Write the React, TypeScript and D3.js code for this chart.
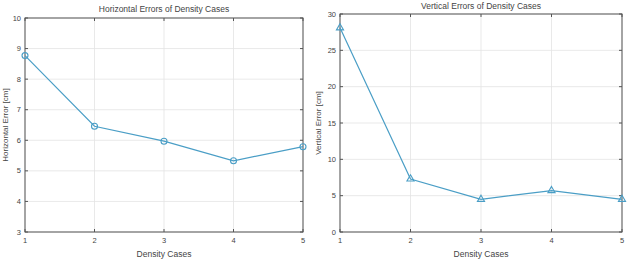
import React from "react";
import * as d3 from "d3";

const cases = [1, 2, 3, 4, 5];
const horizontalErrors = [8.77, 6.46, 5.97, 5.33, 5.79];
const verticalErrors = [28.1, 7.3, 4.5, 5.7, 4.5];
const hTicks = [3, 4, 5, 6, 7, 8, 9, 10];
const vTicks = [0, 5, 10, 15, 20, 25, 30];

const LINE = "#4a9ec6";
const AXIS = "#555";
const GRID = "#e3e3e3";
const TXT = "#444";
const FONT = "Liberation Sans, Arial, sans-serif";

type PanelProps = {
  left: number; right: number; top: number; bottom: number;
  yDomain: [number, number]; yTicks: number[]; values: number[];
  title: string; titleY: number; ylabel: string; ylabelX: number; marker: "circle" | "triangle";
};

function Panel(p: PanelProps) {
  const x = d3.scaleLinear().domain([1, 5]).range([p.left, p.right]);
  const y = d3.scaleLinear().domain(p.yDomain).range([p.bottom, p.top]);
  const line = d3.line<number>().x((_, i) => x(cases[i])).y((d) => y(d));
  const tri = d3.symbol().type(d3.symbolTriangle).size(22)();
  const cx = (p.left + p.right) / 2;
  const cy = (p.top + p.bottom) / 2;
  return (
    <g fontFamily={FONT}>
      {cases.map((c) => (
        <line key={"gx" + c} x1={x(c)} x2={x(c)} y1={p.top} y2={p.bottom} stroke={GRID} strokeWidth={0.8} />
      ))}
      {p.yTicks.map((t) => (
        <line key={"gy" + t} x1={p.left} x2={p.right} y1={y(t)} y2={y(t)} stroke={GRID} strokeWidth={0.8} />
      ))}
      <rect x={p.left} y={p.top} width={p.right - p.left} height={p.bottom - p.top} fill="none" stroke={AXIS} strokeWidth={1} />
      {cases.map((c) => (
        <g key={"tx" + c}>
          <line x1={x(c)} x2={x(c)} y1={p.bottom} y2={p.bottom - 3} stroke={AXIS} />
          <line x1={x(c)} x2={x(c)} y1={p.top} y2={p.top + 3} stroke={AXIS} />
          <text x={x(c)} y={p.bottom + 11} fontSize={7.5} fill={TXT} textAnchor="middle">{c}</text>
        </g>
      ))}
      {p.yTicks.map((t) => (
        <g key={"ty" + t}>
          <line x1={p.left} x2={p.left + 3} y1={y(t)} y2={y(t)} stroke={AXIS} />
          <line x1={p.right} x2={p.right - 3} y1={y(t)} y2={y(t)} stroke={AXIS} />
          <text x={p.left - 4} y={y(t) + 2.5} fontSize={7.5} fill={TXT} textAnchor="end">{t}</text>
        </g>
      ))}
      <path d={line(p.values) || ""} fill="none" stroke={LINE} strokeWidth={1.2} />
      {p.values.map((v, i) =>
        p.marker === "circle" ? (
          <circle key={"m" + i} cx={x(cases[i])} cy={y(v)} r={3} fill="none" stroke={LINE} strokeWidth={1.1} />
        ) : (
          <path key={"m" + i} d={tri || ""} transform={`translate(${x(cases[i])},${y(v)})`} fill="none" stroke={LINE} strokeWidth={1.1} />
        )
      )}
      <text x={cx} y={p.titleY} fontSize={8.5} fill={TXT} textAnchor="middle">{p.title}</text>
      <text x={cx} y={p.bottom + 25} fontSize={8.5} fill={TXT} textAnchor="middle">Density Cases</text>
      <text transform={`translate(${p.ylabelX},${cy}) rotate(-90)`} fontSize={8} fill={TXT} textAnchor="middle">{p.ylabel}</text>
    </g>
  );
}

export default function App() {
  return (
    <svg width={629} height={276} style={{ position: "absolute", left: 0, top: 0, background: "#fff" }}>
      <rect width={629} height={276} fill="#fff" />
      <Panel left={25} right={303} top={18} bottom={232} yDomain={[3, 10]} yTicks={hTicks}
        values={horizontalErrors} title="Horizontal Errors of Density Cases" titleY={12}
        ylabel="Horizontal Error [cm]" ylabelX={8} marker="circle" />
      <Panel left={340} right={622} top={14} bottom={232} yDomain={[0, 30]} yTicks={vTicks}
        values={verticalErrors} title="Vertical Errors of Density Cases" titleY={9}
        ylabel="Vertical Error [cm]" ylabelX={321} marker="triangle" />
    </svg>
  );
}
